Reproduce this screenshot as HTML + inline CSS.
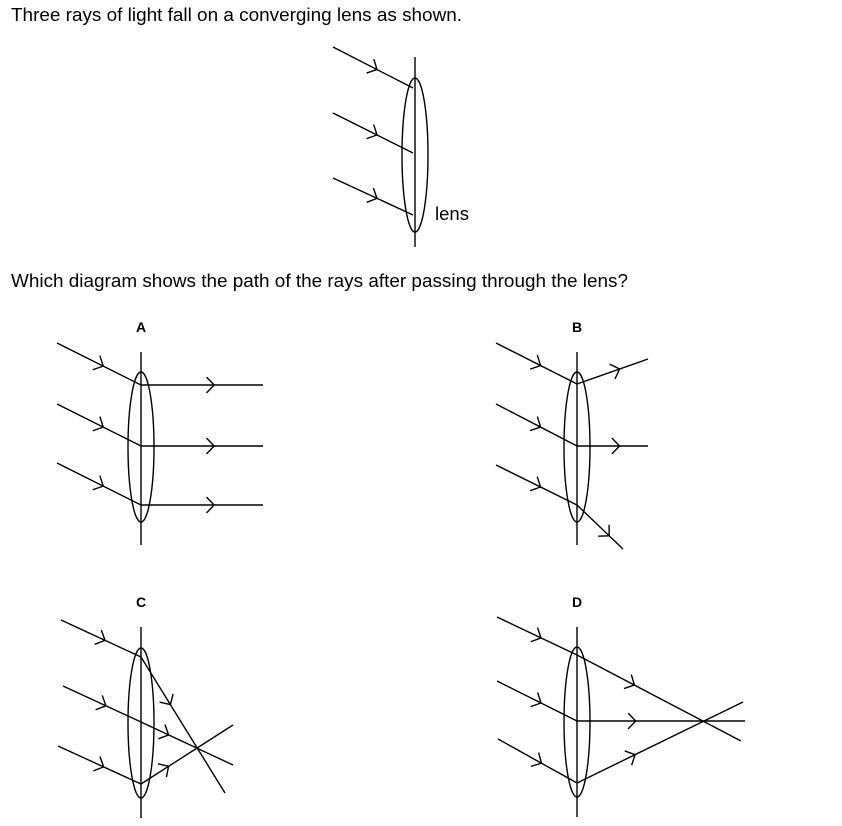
<!DOCTYPE html>
<html><head><meta charset="utf-8"><style>
body{margin:0;background:#fff;width:842px;height:826px;overflow:hidden}
svg{position:absolute;left:0;top:0}
text{font-family:"Liberation Sans",Arial,sans-serif;fill:#000}
</style></head><body>
<svg id="s" width="842" height="826" viewBox="0 0 842 826" stroke="#000" stroke-width="1.4" fill="none">
<text x="11" y="21" font-size="18" textLength="451" lengthAdjust="spacingAndGlyphs" stroke="none">Three rays of light fall on a converging lens as shown.</text>
<text x="435" y="220" font-size="18" textLength="34" lengthAdjust="spacingAndGlyphs" stroke="none">lens</text>
<text x="11" y="287" font-size="18" textLength="617" lengthAdjust="spacingAndGlyphs" stroke="none">Which diagram shows the path of the rays after passing through the lens?</text>
<text x="141" y="332" font-size="14" font-weight="bold" text-anchor="middle" stroke="none">A</text>
<text x="577" y="332" font-size="14" font-weight="bold" text-anchor="middle" stroke="none">B</text>
<text x="141" y="607" font-size="14" font-weight="bold" text-anchor="middle" stroke="none">C</text>
<text x="577" y="607" font-size="14" font-weight="bold" text-anchor="middle" stroke="none">D</text>
</svg>
<script>
var s=document.getElementById('s'),NS='http://www.w3.org/2000/svg';
function el(t,a){var e=document.createElementNS(NS,t);for(var k in a)e.setAttribute(k,a[k]);s.appendChild(e);}
function L(x1,y1,x2,y2){el('line',{x1:x1,y1:y1,x2:x2,y2:y2});}
function A(x1,y1,x2,y2,f){var x=x1+(x2-x1)*f,y=y1+(y2-y1)*f,a=Math.atan2(y2-y1,x2-x1),l=11,w=0.8;
el('polyline',{points:(x-l*Math.cos(a-w))+','+(y-l*Math.sin(a-w))+' '+x+','+y+' '+(x-l*Math.cos(a+w))+','+(y-l*Math.sin(a+w))});}
function R(x1,y1,x2,y2,f){L(x1,y1,x2,y2);A(x1,y1,x2,y2,f==null?0.55:f);}
function lens(x,yt,yb,cy,ry){L(x,yt,x,yb);el('ellipse',{cx:x,cy:cy,rx:13,ry:ry});}
lens(415,57,247,155,77);
R(333,47,413,88,0.55);R(333,113,413,153,0.55);R(333,178,413,215,0.55);
lens(141,352,545,447,75);
R(57,343,141,385);R(57,404,141,446);R(57,463,141,505);
R(141,385,263,385,0.6);R(141,446,263,446,0.6);R(141,505,263,505,0.6);
lens(577,352,545,447,75);
R(496,343,577,384);R(496,404,577,446);R(496,465,577,505);
R(577,384,648,359,0.6);R(577,446,648,446,0.6);L(577,505,623,549);A(577,505,623,549,0.7);
lens(141,627,818,723,75);
R(61,620,141,657);R(63,686,141,722);R(58,746,141,784);
L(141,657,225,793);A(141,657,225,793,0.35);
L(141,722,233,765);A(141,722,233,765,0.3);
L(141,784,233,725);A(141,784,233,725,0.3);
lens(577,627,817,722,75);
R(497,617,577,655);R(497,681,577,721);R(498,739,577,783);
L(577,655,741,741);A(577,655,741,741,0.35);
L(577,721,745,721);A(577,721,745,721,0.35);
L(577,783,743,702);A(577,783,743,702,0.35);
</script>
</body></html>
